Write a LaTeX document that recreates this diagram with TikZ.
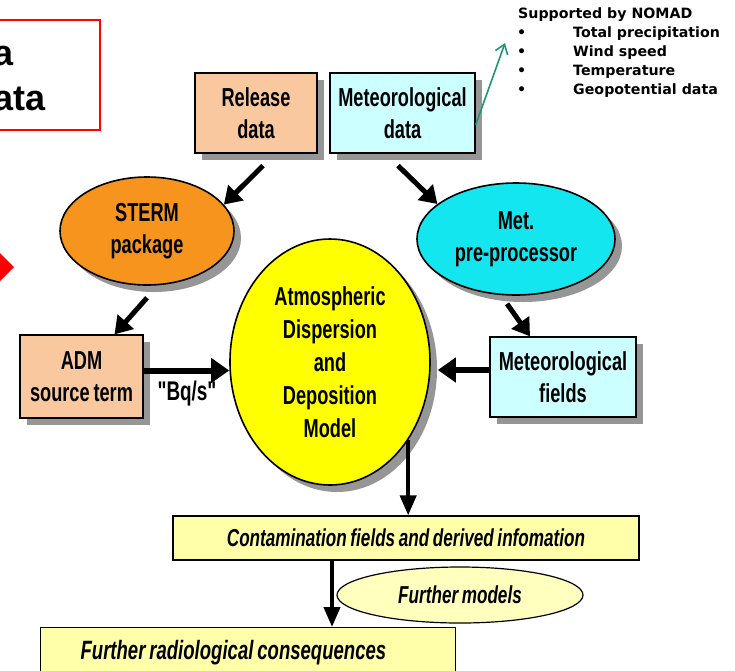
\documentclass[tikz,border=0pt]{standalone}
\usepackage{fontspec}
\setmainfont{Liberation Sans}
\newfontfamily\nar[FakeStretch=0.70,WordSpace=0.75]{Liberation Sans}
\newfontfamily\nomadfont{DejaVu Sans}
\usetikzlibrary{shapes.geometric,arrows.meta,shadows}
\definecolor{peach}{RGB}{250,200,158}
\definecolor{lcyan}{RGB}{204,255,255}
\definecolor{orng}{RGB}{247,148,30}
\definecolor{cyn}{RGB}{20,230,240}
\definecolor{ylw}{RGB}{255,255,0}
\definecolor{lylw}{RGB}{255,255,170}
\definecolor{fylw}{RGB}{255,255,190}
\definecolor{tealarrow}{RGB}{30,150,120}
\definecolor{shadowgray}{RGB}{150,150,150}
\begin{document}
\begin{tikzpicture}[x=1pt,y=-1pt,
  shdw/.style={drop shadow={shadow xshift=7pt,shadow yshift=-7pt,fill=shadowgray,opacity=1}},
  bigfont/.style={font=\nar\bfseries\fontsize{26}{32}\selectfont},
  box/.style={rectangle,draw=black,line width=1.3pt,inner sep=0pt,align=center,bigfont},
  ell/.style={ellipse,draw=black,line width=1.6pt,inner sep=0pt,align=center,bigfont},
  arr/.style={line width=5pt,-{Triangle[length=17pt,width=21pt]}},
  harr/.style={line width=6pt,-{Triangle[length=18pt,width=24pt]}},
  varr/.style={line width=4pt,-{Triangle[length=20pt,width=16pt]}},
  lowbox/.style={rectangle,draw=black,line width=1.2pt,fill=lylw,inner sep=0pt,
     font=\nar\bfseries\itshape\fontsize{24.5}{26}\selectfont},
  nomad/.style={font=\nomadfont\bfseries\fontsize{14.2}{19}\selectfont,anchor=base west,inner sep=0pt},
  redtxt/.style={font=\bfseries\fontsize{36}{44}\selectfont,anchor=base east,inner sep=0pt}
]
\clip (0,0) rectangle (735,670);
\fill[white] (0,0) rectangle (735,670);

% partial red box and diamond at left
\draw[red,line width=1.5pt] (-60,20) rectangle (100,130);
\node[redtxt] (ra) at (14,65) {a};
\node[redtxt] (rb) at (46,110) {ata};
\fill[red] (14,267) -- (-6,247) -- (-26,267) -- (-6,287) -- cycle;

% NOMAD text
\node[nomad] (n0) at (518,18) {Supported by NOMAD};
\node[nomad] (b1) at (517,37) {•};
\node[nomad] (t1) at (573,37) {Total precipitation};
\node[nomad] (b2) at (517,56) {•};
\node[nomad] (t2) at (573,56) {Wind speed};
\node[nomad] (b3) at (517,75) {•};
\node[nomad] (t3) at (573,75) {Temperature};
\node[nomad] (b4) at (517,94) {•};
\node[nomad] (t4) at (573,94) {Geopotential data};

% boxes
\node[box,shdw,fill=peach,minimum width=122pt,minimum height=80pt] (rel) at (256,113) {Release\\data};
\node[box,shdw,fill=lcyan,minimum width=145pt,minimum height=80pt] (metdata) at (402.5,113) {Meteorological\\data};
\node[ell,shdw,fill=orng,minimum width=174pt,minimum height=108pt] (sterm) at (147,231) {STERM\\package};
\node[ell,shdw,fill=cyn,minimum width=198pt,minimum height=112pt] (metpre) at (516,239) {Met.\\pre-processor};
\node[ell,shdw,fill=ylw,minimum width=200pt,minimum height=246pt,
  font=\nar\bfseries\fontsize{26}{33}\selectfont] (dism) at (330,362)
  {Atmospheric\\Dispersion\\and\\Deposition\\Model};
\node[box,shdw,fill=peach,minimum width=123pt,minimum height=83pt] (adm) at (81.5,376.5) {ADM\\source term};
\node[box,shdw,fill=lcyan,minimum width=146pt,minimum height=80pt] (metf) at (563,377) {Meteorological\\fields};
\node[font=\nar\bfseries\fontsize{27}{30}\selectfont,inner sep=0pt] (bq) at (187,394) {"Bq/s"};

\node[lowbox,minimum width=466pt,minimum height=44pt] (cont) at (406,538) {Contamination fields and derived infomation};
\node[ellipse,draw=black,line width=1.2pt,fill=fylw,inner sep=0pt,minimum width=246pt,minimum height=56pt,
  font=\nar\bfseries\itshape\fontsize{24.5}{26}\selectfont] (fmod) at (460,595) {Further models};
\node[lowbox,minimum height=50pt,inner xsep=40pt,anchor=north west,
  font=\nar\bfseries\itshape\fontsize{26.5}{28}\selectfont] (frad) at (40,627)
  {\makebox[335pt][l]{Further radiological consequences}};

% connectors
\coordinate (c1) at ([xshift=7pt,yshift=-12pt]rel.south);
\draw[arr] (c1) -- (sterm.19);
\coordinate (c2) at ([xshift=-4.5pt,yshift=-12pt]metdata.south);
\draw[arr] (c2) -- (metpre.156);
\coordinate (c3) at ([yshift=-12pt]sterm.south);
\draw[arr] (c3) -- ([xshift=33pt]adm.north);
\coordinate (c4) at ([xshift=-9pt,yshift=-8pt]metpre.south);
\draw[arr] (c4) -- ([xshift=-33pt]metf.north);
\coordinate (c5) at ([yshift=6pt]adm.east);
\draw[harr] (c5) -- (c5 -| dism.west);
\coordinate (c6) at ([yshift=7pt]metf.west);
\coordinate (c6e) at ([xshift=7pt]dism.east);
\draw[harr] (c6) -- (c6 -| c6e);
\draw[varr] (dism.-45) -- (dism.-45 |- cont.north);
\coordinate (c7) at ([xshift=-74pt]cont.south);
\draw[varr] (c7) -- (c7 |- frad.north);
\coordinate (tealend) at (505,43);
\draw[tealarrow,line width=1.6pt,-{Straight Barb[length=9pt,width=13pt]}] ([yshift=-12pt]metdata.east) -- (tealend);
\end{tikzpicture}
\end{document}
